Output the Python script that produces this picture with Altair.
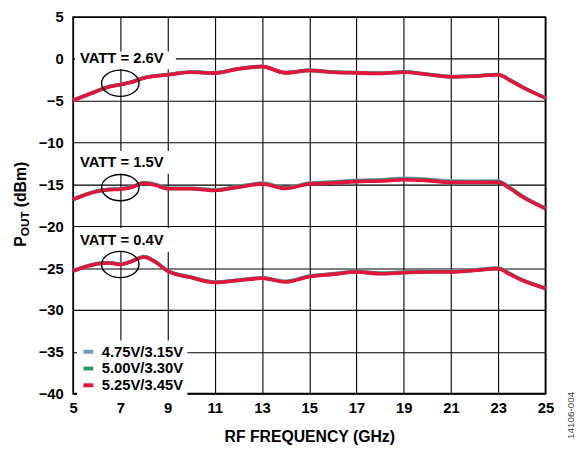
import altair as alt
import pandas as pd

FONT = "Liberation Sans"

freqs = [5, 6, 6.5, 7, 7.5, 8, 8.5, 9, 10, 11, 12, 13, 14, 15, 16, 17, 18, 19, 20, 21, 22, 23, 23.5, 24, 25]

supplies = ["4.75V/3.15V", "5.00V/3.30V", "5.25V/3.45V"]
colors = ["#7a96c6", "#2e9a62", "#e2153d"]

# VATT = 2.6V
p26_blue = [-4.95, -3.84, -3.33, -3.06, -2.74, -2.27, -2.02, -1.88, -1.57, -1.68, -1.17, -0.90, -1.65, -1.37, -1.56, -1.64, -1.71, -1.56, -1.83, -2.11, -2.03, -1.86, -2.52, -3.30, -4.70]
p26_green = [-4.96, -3.85, -3.34, -3.07, -2.75, -2.28, -2.03, -1.89, -1.58, -1.69, -1.18, -0.91, -1.66, -1.38, -1.58, -1.66, -1.73, -1.58, -1.85, -2.13, -2.05, -1.88, -2.55, -3.33, -4.68]
p26_red = [-4.98, -3.87, -3.36, -3.09, -2.77, -2.30, -2.05, -1.91, -1.60, -1.71, -1.20, -0.93, -1.68, -1.40, -1.60, -1.68, -1.75, -1.60, -1.87, -2.15, -2.07, -1.91, -2.58, -3.36, -4.66]

# VATT = 1.5V
p15_blue = [-16.75, -15.78, -15.58, -15.52, -15.27, -14.78, -15.00, -15.45, -15.45, -15.64, -15.25, -14.85, -15.40, -14.85, -14.70, -14.52, -14.44, -14.27, -14.38, -14.60, -14.62, -14.60, -15.38, -16.35, -17.82]
p15_green = [-16.79, -15.81, -15.61, -15.55, -15.30, -14.82, -15.05, -15.49, -15.49, -15.68, -15.29, -14.90, -15.44, -14.90, -14.76, -14.60, -14.52, -14.36, -14.47, -14.68, -14.69, -14.68, -15.44, -16.40, -17.86]
p15_red = [-16.83, -15.85, -15.65, -15.58, -15.34, -14.87, -15.10, -15.53, -15.53, -15.73, -15.34, -14.95, -15.48, -14.95, -14.83, -14.67, -14.60, -14.44, -14.55, -14.75, -14.75, -14.75, -15.50, -16.44, -17.90]

# VATT = 0.4V
p04_blue = [-25.30, -24.45, -24.33, -24.52, -24.13, -23.62, -24.25, -25.30, -26.07, -26.66, -26.43, -26.16, -26.58, -25.95, -25.68, -25.40, -25.60, -25.47, -25.39, -25.39, -25.20, -24.98, -25.66, -26.38, -27.38]
p04_green = [-25.33, -24.48, -24.36, -24.55, -24.16, -23.65, -24.28, -25.33, -26.10, -26.69, -26.46, -26.19, -26.62, -25.99, -25.72, -25.44, -25.64, -25.51, -25.43, -25.43, -25.24, -25.03, -25.70, -26.42, -27.41]
p04_red = [-25.35, -24.50, -24.38, -24.57, -24.18, -23.67, -24.30, -25.35, -26.13, -26.72, -26.49, -26.22, -26.65, -26.02, -25.75, -25.47, -25.67, -25.55, -25.47, -25.47, -25.28, -25.08, -25.75, -26.45, -27.43]

series = {
    "4.75V/3.15V": {"2.6V": p26_blue, "1.5V": p15_blue, "0.4V": p04_blue},
    "5.00V/3.30V": {"2.6V": p26_green, "1.5V": p15_green, "0.4V": p04_green},
    "5.25V/3.45V": {"2.6V": p26_red, "1.5V": p15_red, "0.4V": p04_red},
}

# annotations
vatt_labels = ["VATT = 2.6V", "VATT = 1.5V", "VATT = 0.4V"]
label_freq = [5.29, 5.29, 5.29]
label_pout = [0.05, -12.32, -21.66]
box_f1 = [5.08, 5.08, 5.08]
box_f2 = [9.35, 9.35, 9.35]
box_p1 = [0.88, -11.02, -20.2]
box_p2 = [-1.24, -13.73, -23.04]
ell_freq = [7, 7, 7]
ell_pout = [-2.92, -15.38, -24.57]

x_ticks = [5, 7, 9, 11, 13, 15, 17, 19, 21, 23, 25]
y_ticks = [5, 0, -5, -10, -15, -20, -25, -30, -35, -40]

rows = []
for s in supplies:
    for v, vals in series[s].items():
        for f, p in zip(freqs, vals):
            rows.append({"freq": f, "pout": p, "supply": s, "vatt": v})
df = pd.DataFrame(rows)

ann = pd.DataFrame({
    "label": vatt_labels, "lf": label_freq, "lp": label_pout,
    "bf1": box_f1, "bf2": box_f2, "bp1": box_p1, "bp2": box_p2,
    "ef": ell_freq, "ep": ell_pout,
})

xscale = alt.Scale(domain=[5, 25], nice=False, zero=False)
yscale = alt.Scale(domain=[-40, 5], nice=False, zero=False)

xaxis = alt.Axis(values=x_ticks, title="RF FREQUENCY (GHz)", grid=True, ticks=False,
                 domain=False, labelFont=FONT, labelFontSize=15, labelFontWeight="bold",
                 labelColor="black", labelPadding=7, labelFlush=False,
                 titleFont=FONT, titleFontSize=16, titleFontWeight="bold", titleColor="black",
                 titlePadding=14, gridColor="black", gridWidth=1.1, gridOpacity=1)
yaxis = alt.Axis(values=y_ticks, grid=True, ticks=False, domain=False,
                 labelFont=FONT, labelFontSize=15, labelFontWeight="bold",
                 labelColor="black", labelPadding=10, labelFlush=False,
                 gridColor="black", gridWidth=1.1, gridOpacity=1)

lines = alt.Chart(df).mark_line(interpolate="monotone", strokeWidth=3.6).encode(
    x=alt.X("freq:Q", scale=xscale, axis=xaxis),
    y=alt.Y("pout:Q", scale=yscale, axis=yaxis, title=None),
    color=alt.Color("supply:N", scale=alt.Scale(domain=supplies, range=colors),
                    legend=alt.Legend(title=None, orient="none", legendX=4, legendY=328,
                                      fillColor="white", padding=4,
                                      labelFont=FONT, labelFontSize=15,
                                      labelFontWeight="bold", labelColor="black",
                                      symbolType="stroke", symbolStrokeWidth=4,
                                      symbolSize=100, labelOffset=6, rowPadding=0)),
    detail="vatt:N",
)

boxes = alt.Chart(ann).mark_rect(color="white").encode(
    x=alt.X("bf1:Q", scale=xscale), x2="bf2:Q",
    y=alt.Y("bp1:Q", scale=yscale), y2="bp2:Q",
)

ellipses = alt.Chart(ann).mark_point(
    shape="M -1 0 A 1 0.7 0 1 0 1 0 A 1 0.7 0 1 0 -1 0 Z",
    size=1444, filled=False, stroke="black", strokeWidth=1.4, opacity=1,
).encode(x=alt.X("ef:Q", scale=xscale), y=alt.Y("ep:Q", scale=yscale))

labels = alt.Chart(ann).mark_text(
    align="left", baseline="middle", font=FONT, fontSize=15, fontWeight="bold", color="black",
).encode(x=alt.X("lf:Q", scale=xscale), y=alt.Y("lp:Q", scale=yscale), text="label:N")

one = alt.Data(values=[{}])
ytitle_p = alt.Chart(one).mark_text(
    text="P", angle=270, align="left", baseline="alphabetic", font=FONT,
    fontSize=16, fontWeight="bold", color="black",
).encode(x=alt.value(-47.5), y=alt.value(233))
ytitle_sub = alt.Chart(one).mark_text(
    text="OUT", angle=270, align="left", baseline="alphabetic", font=FONT,
    fontSize=12, fontWeight="bold", color="black",
).encode(x=alt.value(-44.5), y=alt.value(222.3))
ytitle_rest = alt.Chart(one).mark_text(
    text="(dBm)", angle=270, align="left", baseline="alphabetic", font=FONT,
    fontSize=16, fontWeight="bold", color="black",
).encode(x=alt.value(-47.5), y=alt.value(193))
figid = alt.Chart(one).mark_text(
    text="14106-004", angle=270, align="left", baseline="alphabetic", font=FONT,
    fontSize=10, color="#444444",
).encode(x=alt.value(508), y=alt.value(428))

chart = alt.layer(
    boxes, lines, ellipses, labels, ytitle_p, ytitle_sub, ytitle_rest, figid
).properties(
    width=479, height=382,
    autosize=alt.AutoSizeParams(type="none"),
    padding={"left": 66, "top": 6, "right": 30, "bottom": 52},
    background="white",
).configure_view(stroke="black", strokeWidth=1.6)

chart.save("out.html", embed_options={"renderer": "svg", "actions": False})
